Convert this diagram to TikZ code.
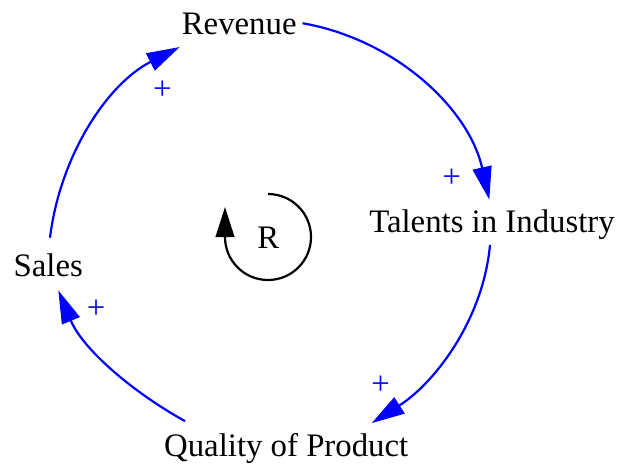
\documentclass[tikz,border=0pt]{standalone}
\usepackage{fontspec}
\setmainfont{Liberation Serif}
\usetikzlibrary{arrows.meta}
\begin{document}
\begin{tikzpicture}[x=0.5pt,y=0.5pt,
  lbl/.style={inner sep=0pt,outer sep=0pt,anchor=base,font=\fontsize{16.4}{19}\selectfont,text=black},
  plus/.style={inner sep=0pt,outer sep=0pt,font=\fontsize{16.4}{19}\selectfont,text=blue},
  link/.style={draw=blue,line width=1.1pt,-{Triangle[length=16.5pt,width=9.5pt]}},
  loopline/.style={draw=black,line width=1.1pt,-{Triangle[length=15pt,width=9.3pt]}}]
\useasboundingbox (0,0) rectangle (619,467);
% variables
\node[lbl] (rev) at (239.2,432) {Revenue};
\node[lbl] (tal) at (492,234.7) {Talents in Industry};
\node[lbl] (qual) at (286.2,10.3) {Quality of Product};
\node[lbl] (sales) at (48.3,191) {Sales};
\node[lbl] (R) at (268.3,218.7) {R};
% polarity signs
\node[plus] (p1) at (162.3,376.3) {+};
\node[plus] (p2) at (451.7,288.7) {+};
\node[plus] (p3) at (380.7,82) {+};
\node[plus] (p4) at (96,158) {+};
% causal links
\draw[link] ([shift={(6,1.2)}]rev.east) .. controls +(-10:94) and +(102.7:94) .. ([shift={(-2.7,9.8)}]tal.north);
\draw[link] ([shift={(-2,-5.6)}]tal.south) .. controls +(264.7:75) and +(32.5:75) .. ([shift={(85.5,10.5)}]qual.north);
\draw[link] ([shift={(-101.2,12.5)}]qual.north) .. controls +(151:62.5) and +(-67.5:62.5) .. ([shift={(10,-14)}]sales.south);
\draw[link] ([shift={(1.7,15.5)}]sales.north) .. controls +(83:82) and +(207:82) .. ([shift={(-2.1,-11.7)}]rev.south west);
% loop symbol
\coordinate (lc) at (268,230);
\draw[loopline] ([shift={(0,43)}]lc) arc[start angle=90,end angle=-180,radius=43] -- +(0,30);
\end{tikzpicture}
\end{document}
